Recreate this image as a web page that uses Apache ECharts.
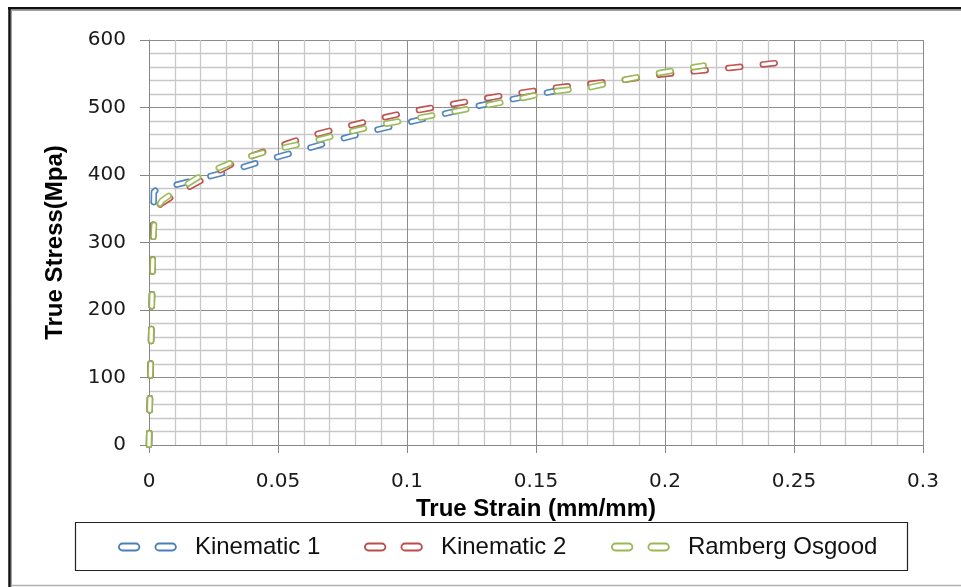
<!DOCTYPE html>
<html>
<head>
<meta charset="utf-8">
<script src="https://cdn.jsdelivr.net/npm/echarts@6/dist/echarts.min.js"></script>
<style>
html,body{margin:0;padding:0;background:#fff;}
#chart{width:961px;height:587px;}
</style>
</head>
<body>
<div id="chart"></div>
<script>
// ---- data (strain mm/mm, stress MPa) ----
const seriesNames = ['Kinematic 1', 'Kinematic 2', 'Ramberg Osgood'];
const seriesColors = ['#4A7EBB', '#BE4B48', '#98B954'];
const kinematic1 = [
  [0,0],[0.0019,375],[0.0035,380],[0.008,383],[0.0178,392.5],[0.0315,406],
  [0.045,421.5],[0.0585,436],[0.0715,450.5],[0.0855,464.5],[0.099,476.5],
  [0.112,488.5],[0.1257,501],[0.139,511],[0.1528,521],[0.157,524]
];
const kinematic2 = [
  [0,0],[0.0018,345],[0.0045,357],[0.0104,371.5],[0.0227,397],[0.035,422],
  [0.0482,439.5],[0.0614,457],[0.0756,471],[0.089,483.5],[0.1021,494.5],
  [0.1155,503.5],[0.1295,513],[0.1434,521.5],[0.1568,529],[0.1707,535],
  [0.1842,541],[0.1984,549],[0.2123,554],[0.2261,559],[0.2433,566]
];
const rambergOsgood = [
  [0,0],[0.0016,300],[0.0022,345],[0.005,362],[0.0095,374],[0.021,401],
  [0.035,423],[0.0477,437],[0.0615,448],[0.075,461.5],[0.089,474],
  [0.1021,483],[0.1155,492],[0.1295,502],[0.1434,513],[0.1571,524],
  [0.1712,530],[0.1841,541],[0.1976,551],[0.2115,560],[0.215,562]
];
const allData = [kinematic1, kinematic2, rambergOsgood];
const xTickLabels = ['0','0.05','0.1','0.15','0.2','0.25','0.3'];
const yTickLabels = ['0','100','200','300','400','500','600'];

const chart = echarts.init(document.getElementById('chart'), null, {renderer:'canvas'});

const dashPattern = [12, 22.7];
const series = [];
allData.forEach((d, i) => {
  series.push({
    name: seriesNames[i], type: 'line', data: d, showSymbol: false, symbol: 'none',
    smooth: false, silent: true,
    lineStyle: {color: seriesColors[i], width: 6.5, type: dashPattern,
                cap: 'round', join: 'round', opacity: 0.95}
  });
  series.push({
    name: seriesNames[i], type: 'line', data: d, showSymbol: false, symbol: 'none',
    smooth: false, silent: true,
    lineStyle: {color: '#ffffff', width: 3.2, type: dashPattern,
                cap: 'round', join: 'round'}
  });
});

const legendIcon = 'path://M3.5,0 H17 A3.5,3.5 0 0 1 17,7 H3.5 A3.5,3.5 0 0 1 3.5,0 Z M40,0 H53.5 A3.5,3.5 0 0 1 53.5,7 H40 A3.5,3.5 0 0 1 40,0 Z';
const legendLefts = [118, 364, 611];
const legends = seriesNames.map((n, i) => ({
  left: legendLefts[i], top: 533, padding: 0,
  itemWidth: 57, itemHeight: 7, selectedMode: false,
  data: [{name: n, icon: legendIcon,
          itemStyle: {color: '#ffffff', borderColor: seriesColors[i], borderWidth: 1.8}}],
  textStyle: {fontFamily: 'Liberation Sans', fontSize: 24, color: '#111',
              padding: [0,0,0,14], lineHeight: 28}
}));

const option = {
  animation: false,
  backgroundColor: '#ffffff',
  grid: {left: 149, right: 38, top: 40, bottom: 142, containLabel: false},
  xAxis: {
    type: 'value', min: 0, max: 0.3, interval: 0.05,
    name: 'True Strain (mm/mm)', nameLocation: 'middle', nameGap: 47,
    nameTextStyle: {fontFamily: 'Liberation Sans', fontWeight: 'bold', fontSize: 24, color: '#000'},
    axisLine: {show: true, lineStyle: {color: '#868686', width: 1}},
    axisTick: {show: true, length: 8, inside: false, lineStyle: {color: '#868686'}},
    axisLabel: {margin: 27, fontFamily: 'DejaVu Sans', fontSize: 20, color: '#1a1a1a',
      formatter: (v) => { const k = Math.round(v / 0.05); return xTickLabels[k] !== undefined ? xTickLabels[k] : ''; }},
    splitLine: {show: true, lineStyle: {color: '#8c8c8c', width: 1}},
    minorTick: {show: false, splitNumber: 5},
    minorSplitLine: {show: true, lineStyle: {color: '#c8c8c8', width: 1.3}}
  },
  yAxis: {
    type: 'value', min: 0, max: 600, interval: 100,
    name: 'True Stress(Mpa)', nameLocation: 'middle', nameGap: 82, nameRotate: 90,
    nameTextStyle: {fontFamily: 'Liberation Sans', fontWeight: 'bold', fontSize: 24, color: '#000'},
    axisLine: {show: true, lineStyle: {color: '#868686', width: 1}},
    axisTick: {show: true, length: 9, inside: false, lineStyle: {color: '#868686'}},
    axisLabel: {margin: 23, fontFamily: 'DejaVu Sans', fontSize: 20, color: '#1a1a1a',
      formatter: (v) => { const k = Math.round(v / 100); return yTickLabels[k] !== undefined ? yTickLabels[k] : ''; }},
    splitLine: {show: true, lineStyle: {color: '#8c8c8c', width: 1}},
    minorTick: {show: false, splitNumber: 5},
    minorSplitLine: {show: true, lineStyle: {color: '#c8c8c8', width: 1.3}}
  },
  legend: legends,
  graphic: [
    {type: 'line', shape: {x1: 9.5, y1: 7, x2: 9.5, y2: 587}, style: {stroke: '#111', lineWidth: 2.5}, silent: true},
    {type: 'line', shape: {x1: 11.5, y1: 10, x2: 11.5, y2: 587}, style: {stroke: '#a0a0a0', lineWidth: 1}, silent: true},
    {type: 'line', shape: {x1: 8, y1: 8.2, x2: 961, y2: 8.2}, style: {stroke: '#111', lineWidth: 2.5}, silent: true},
    {type: 'line', shape: {x1: 11, y1: 10.5, x2: 961, y2: 10.5}, style: {stroke: '#a0a0a0', lineWidth: 1}, silent: true},
    {type: 'line', shape: {x1: 11, y1: 585.5, x2: 961, y2: 585.5}, style: {stroke: '#b0b0b0', lineWidth: 1.5}, silent: true},
    {type: 'rect', shape: {x: 75.5, y: 522.5, width: 832, height: 48}, style: {fill: 'none', stroke: '#222', lineWidth: 1.2}, silent: true}
  ],
  series: series
};
chart.setOption(option);
</script>
</body>
</html>
